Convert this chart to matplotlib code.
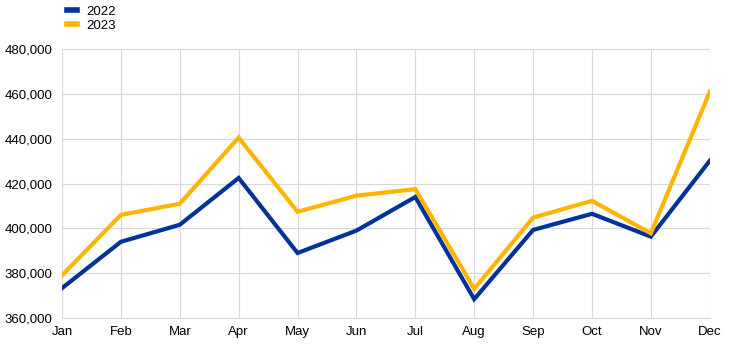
import matplotlib
matplotlib.use("Agg")
import matplotlib.pyplot as plt
from matplotlib.ticker import FuncFormatter

plt.rcParams['font.family'] = ['Liberation Sans', 'DejaVu Sans']

months = ["Jan", "Feb", "Mar", "Apr", "May", "Jun", "Jul", "Aug", "Sep", "Oct", "Nov", "Dec"]
values_2022 = [373300, 394000, 401600, 422500, 389000, 399000, 414000, 368400, 399300, 406500, 396300, 430200]
values_2023 = [379000, 406000, 411000, 440500, 407400, 414600, 417500, 373000, 404800, 412300, 397800, 461000]
yticks = [360000, 380000, 400000, 420000, 440000, 460000, 480000]

fig = plt.figure(figsize=(7.44, 3.46), dpi=100)
ax = fig.add_axes([0.0833, 0.081, 0.8707, 0.777])

x = list(range(len(months)))
ax.plot(x, values_2022, color="#003299", lw=3.0, label="2022", solid_joinstyle="miter", zorder=3)
ax.plot(x, values_2023, color="#FFB400", lw=3.0, label="2023", solid_joinstyle="miter", zorder=3)

ax.set_xlim(0, len(months) - 1)
ax.set_ylim(yticks[0], yticks[-1])
ax.set_xticks(x)
ax.set_xticklabels(months)
ax.set_yticks(yticks)
ax.yaxis.set_major_formatter(FuncFormatter(lambda v, p: f"{int(v):,}"))
ax.grid(True, color="#d9d9d9", lw=0.9)
ax.set_axisbelow(True)
for s in ax.spines.values():
    s.set_visible(False)
ax.spines['bottom'].set_visible(True)
ax.spines['bottom'].set_color("#d9d9d9")
ax.tick_params(length=0, labelsize=9.5, colors="#000000", pad=6)
ax.tick_params(axis='y', pad=7)

leg = fig.legend(loc="upper left", bbox_to_anchor=(0.074, 1.018), frameon=False,
                 fontsize=9.5, handlelength=0.75, handletextpad=0.75, labelspacing=0.12)
for h in leg.get_lines():
    h.set_linewidth(4)

fig.savefig("out.png", dpi=100)
